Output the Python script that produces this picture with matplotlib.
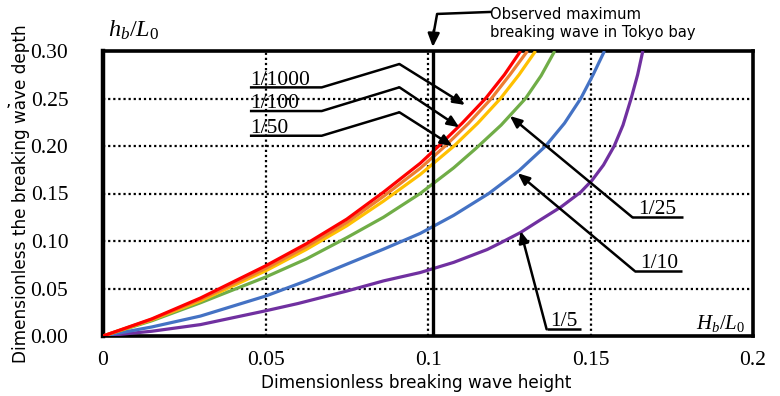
import matplotlib
matplotlib.use("Agg")
import matplotlib.pyplot as plt

# ---- data ----
slopes = ["1/5", "1/10", "1/25", "1/50", "1/100", "1/1000"]
colors = ["#7030A0", "#4472C4", "#70AD47", "#FFC000", "#ED7D31", "#FF0000"]

x_1_5 = [0, 0.015, 0.03, 0.05, 0.06, 0.075, 0.0863, 0.0976, 0.1079, 0.1182, 0.1223, 0.1285, 0.1347,
         0.141, 0.147, 0.1505, 0.154, 0.1573, 0.160, 0.1625, 0.1645, 0.1661]
y_1_5 = [0, 0.005, 0.012, 0.0265, 0.0342, 0.0473, 0.058, 0.0668, 0.0775, 0.091, 0.098, 0.109, 0.1225,
         0.136, 0.1515, 0.164, 0.180, 0.200, 0.222, 0.250, 0.275, 0.300]

x_1_10 = [0, 0.015, 0.03, 0.05, 0.0625, 0.075, 0.0863, 0.0976, 0.1079, 0.1187, 0.128, 0.1362,
          0.142, 0.147, 0.1508, 0.1543]
y_1_10 = [0, 0.0095, 0.021, 0.042, 0.058, 0.0756, 0.0914, 0.108, 0.127, 0.150, 0.174, 0.200,
          0.224, 0.250, 0.275, 0.300]

x_1_25 = [0, 0.015, 0.03, 0.05, 0.0625, 0.075, 0.0863, 0.0976, 0.1079, 0.1146, 0.1225, 0.130, 0.1348, 0.139]
y_1_25 = [0, 0.016, 0.035, 0.062, 0.081, 0.1035, 0.125, 0.150, 0.177, 0.197, 0.222, 0.250, 0.274, 0.300]

x_1_50 = [0, 0.015, 0.03, 0.05, 0.0625, 0.075, 0.0863, 0.0976, 0.108, 0.1153, 0.1223, 0.128, 0.1331]
y_1_50 = [0, 0.017, 0.037, 0.0685, 0.091, 0.116, 0.142, 0.170, 0.200, 0.224, 0.250, 0.275, 0.300]

x_1_100 = [0, 0.015, 0.03, 0.05, 0.0625, 0.075, 0.0863, 0.0976, 0.1053, 0.1125, 0.1195, 0.1252, 0.1306]
y_1_100 = [0, 0.0175, 0.0385, 0.071, 0.094, 0.1195, 0.147, 0.1765, 0.200, 0.224, 0.250, 0.275, 0.300]

x_1_1000 = [0, 0.015, 0.03, 0.05, 0.0625, 0.075, 0.0863, 0.0976, 0.1033, 0.1105, 0.1177, 0.1235, 0.1285]
y_1_1000 = [0, 0.018, 0.040, 0.0738, 0.097, 0.123, 0.1514, 0.1818, 0.200, 0.224, 0.250, 0.275, 0.300]

series_x = [x_1_5, x_1_10, x_1_25, x_1_50, x_1_100, x_1_1000]
series_y = [y_1_5, y_1_10, y_1_25, y_1_50, y_1_100, y_1_1000]

x_ticks = [0, 0.05, 0.1, 0.15, 0.2]
x_ticklabels = ["0", "0.05", "0.1", "0.15", "0.2"]
y_ticks = [0.0, 0.05, 0.10, 0.15, 0.20, 0.25, 0.30]
y_ticklabels = ["0.00", "0.05", "0.10", "0.15", "0.20", "0.25", "0.30"]
observed_x = 0.1015

plt.rcParams["mathtext.fontset"] = "custom"
plt.rcParams["mathtext.rm"] = "Liberation Serif"
plt.rcParams["mathtext.it"] = "Liberation Serif:italic"

SERIF = "Liberation Serif"
SANS = "DejaVu Sans"
W, H = 780, 396

fig = plt.figure(figsize=(7.8, 3.96), dpi=100)
ax = fig.add_axes([103 / W, 1 - 336 / H, 650 / W, 285 / H])
ax.set_xlim(0, 0.2)
ax.set_ylim(0, 0.30)

# grid
for xv in x_ticks[1:-1]:
    ax.axvline(xv, color="black", lw=1.6, ls=(0, (1, 1.3)), zorder=1)
for yv in y_ticks[1:-1]:
    ax.axhline(yv, color="black", lw=1.6, ls=(0, (1, 1.3)), zorder=1)

# curves
for xs, ys, c in zip(series_x, series_y, colors):
    ax.plot(xs, ys, color=c, lw=2.3, solid_capstyle="butt", solid_joinstyle="round", zorder=3)

# observed line
ax.axvline(observed_x, color="black", lw=2.4, zorder=4)

for s in ax.spines.values():
    s.set_linewidth(2.6)
    s.set_color("black")
ax.spines["left"].set_linewidth(3.2)

ax.set_xticks(x_ticks)
ax.set_xticklabels(x_ticklabels, fontfamily=SERIF, fontsize=15.5)
ax.set_yticks(y_ticks)
ax.set_yticklabels(y_ticklabels, fontfamily=SERIF, fontsize=15.5)
ax.tick_params(axis="both", length=0)
ax.tick_params(axis="y", pad=25)
ax.tick_params(axis="x", pad=11)

fig.text(21 / W, 1 - 194 / H, "Dimensionless the breaking wave depth", fontfamily=SANS,
         fontsize=12.2, rotation=90, ha="center", va="center")
fig.text(416 / W, 1 - 383 / H, "Dimensionless breaking wave height", fontfamily=SANS,
         fontsize=12.2, ha="center", va="center")
fig.text(8 / W, 1 - 106 / H, ",", fontfamily=SANS, fontsize=12, ha="center")

# axis symbols
fig.text(108 / W, 1 - 37 / H, r"$h_b/L_0$", fontsize=17.5)
ax.text(0.1975, 0.0075, r"$H_b/L_0$", fontsize=15, ha="right", va="baseline")

arrow_kw = dict(arrowstyle="-|>,head_length=0.7,head_width=0.3", color="black", lw=1.8,
                shrinkA=0, shrinkB=0)

# left labels with leaders
left_labels = [("1/1000", 0.2617, 0.2863, (0.1114, 0.2432)),
               ("1/100", 0.2368, 0.2618, (0.1096, 0.2197)),
               ("1/50", 0.2108, 0.2355, (0.1075, 0.2000))]
for txt, yu, yb, tip in left_labels:
    ax.text(0.0452, yu + 0.003, txt, fontfamily=SERIF, fontsize=15.5, va="baseline", ha="left", zorder=5)
    ax.plot([0.0452, 0.0673, 0.0912], [yu, yu, yb], color="black", lw=1.8, zorder=5, solid_capstyle="butt")
    ax.annotate("", xy=tip, xytext=(0.0912, yb), arrowprops=arrow_kw, zorder=5)

# right labels with leaders
right_labels = [("1/25", 0.1646, 0.1249, 0.1629, 0.1785, (0.1252, 0.2316)),
                ("1/10", 0.1652, 0.0687, 0.1635, 0.1780, (0.1276, 0.1713)),
                ("1/5", 0.1375, 0.0071, 0.1365, 0.1470, (0.1285, 0.1105))]
for txt, xt, yu, x0, x1, tip in right_labels:
    ax.text(xt, yu + 0.003, txt, fontfamily=SERIF, fontsize=15.5, va="baseline", ha="left", zorder=5)
    ax.plot([x0, x1], [yu, yu], color="black", lw=1.8, zorder=5, solid_capstyle="butt")
    ax.annotate("", xy=tip, xytext=(x0, yu), arrowprops=arrow_kw, zorder=5)

# observed annotation
ax.plot([0.1191, 0.1028, 0.1018], [0.3411, 0.3390, 0.320], color="black", lw=1.8, clip_on=False, zorder=6)
ax.annotate("", xy=(observed_x, 0.3042), xytext=(0.1018, 0.322), annotation_clip=False,
            arrowprops=dict(arrowstyle="-|>,head_length=0.8,head_width=0.35", color="black", lw=1.8,
                            shrinkA=0, shrinkB=0), zorder=6)
fig.text(490 / W, 1 - 7 / H, "Observed maximum\nbreaking wave in Tokyo bay",
         fontfamily=SANS, fontsize=10.6, va="top", ha="left", linespacing=1.25)

fig.savefig("out.png", dpi=100)
